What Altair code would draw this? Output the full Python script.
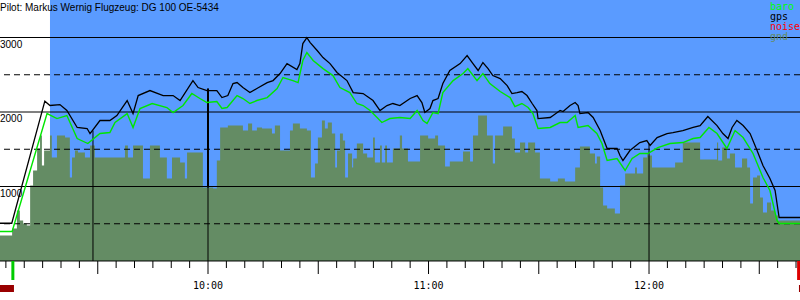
import altair as alt
import pandas as pd

# times are minutes after 09:00, altitudes in metres
gps_t = [3.4, 6.6, 15.6, 17.0, 19.7, 21.6, 24.4, 27.1, 27.9, 30.6,
         33.3, 35.2, 38.0, 39.6, 41.0, 44.2, 47.8, 50.5, 52.4, 55.9,
         57.3, 59.7, 62.4, 63.8, 65.4, 66.8, 67.9, 69.5, 71.4, 73.3,
         76.1, 77.7, 79.6, 81.5, 84.2, 85.0, 85.8, 86.9, 87.8, 89.7,
         91.3, 93.2, 95.1, 97.8, 99.5, 102.2, 104.9, 106.8, 108.7, 110.3,
         112.2, 115.0, 116.9, 118.2, 119.0, 120.4, 121.2, 122.6, 123.9, 125.8,
         128.6, 130.5, 132.1, 133.5, 134.8, 136.2, 137.5, 139.5, 141.4, 142.7,
         144.1, 145.4, 146.8, 148.2, 149.5, 149.8, 153.1, 153.9, 155.8, 156.6,
         158.5, 159.9, 160.7, 161.2, 163.4, 164.8, 166.7, 168.6, 171.3, 172.1,
         172.9, 174.8, 177.5, 179.4, 180.3, 182.2, 184.9, 186.5, 189.2, 192.0,
         193.9, 196.0, 198.5, 200.1, 201.5, 202.6, 203.9, 205.6, 207.5, 209.4,
         211.0, 212.9, 214.3, 215.4, 221.1]
gps_alt = [507, 507, 2145, 2087, 2100, 2020, 1792, 1778, 1711, 1886,
           1886, 1953, 2154, 1979, 2221, 2288, 2221, 2221, 2154, 2422,
           2328, 2288, 2288, 2194, 2221, 2382, 2395, 2328, 2261, 2315,
           2395, 2422, 2516, 2650, 2570, 2650, 2919, 2999, 2932, 2825,
           2731, 2650, 2530, 2422, 2261, 2248, 2154, 2020, 2087, 2114,
           2087, 2181, 2221, 2127, 1993, 2047, 2154, 2181, 2382, 2557,
           2650, 2758, 2650, 2557, 2664, 2583, 2489, 2449, 2355, 2248,
           2261, 2275, 2221, 2114, 2020, 1912, 1926, 1953, 2020, 2006,
           2087, 2127, 2087, 1979, 1993, 1926, 1751, 1510, 1510, 1416,
           1349, 1483, 1590, 1617, 1550, 1657, 1711, 1724, 1751, 1792,
           1818, 1939, 1818, 1711, 1644, 1792, 1886, 1818, 1711, 1483,
           1282, 1107, 946, 584, 584]

baro_t = [3.4, 6.7, 16.2, 18.9, 21.6, 24.4, 27.3, 30.6, 33.3, 34.7,
          38.0, 39.6, 41.5, 44.8, 48.8, 50.5, 53.2, 55.6, 57.8,
          59.7, 62.4, 63.8, 65.2, 67.9, 69.5, 71.4, 73.3, 76.1, 78.8,
          80.4, 83.1, 84.5, 85.8, 86.9, 88.6, 91.3, 94.0, 95.9, 98.6,
          100.5, 102.2, 104.1, 106.0, 107.3, 109.5, 112.2, 115.0, 116.9, 118.5,
          119.6, 121.2, 122.6, 123.9, 126.7, 129.4, 130.7, 133.2, 134.8, 136.7,
          139.5,
          142.2, 143.5, 145.4, 147.1, 148.4, 149.8, 153.1, 155.8, 157.7, 159.9,
          160.7, 163.4, 165.8, 167.2, 168.6, 171.3, 173.5, 175.4, 177.5, 179.7,
          182.4, 185.7, 189.2, 192.0, 193.9, 196.3, 198.5, 201.2, 203.4, 205.6,
          208.3, 211.0, 212.9, 214.8, 215.4, 221.1]
baro_alt = [396, 396, 1979, 1912, 1953, 1644, 1577, 1711, 1724, 1859,
            1979, 1792, 2047, 2114, 2060, 1993, 2087, 2248, 2181,
            2127, 2140, 2047, 2060, 2221, 2181, 2114, 2154, 2194, 2315,
            2463, 2422, 2395, 2691, 2798, 2691, 2583, 2489, 2328, 2261,
            2114, 2087, 2020, 1926, 1859, 1912, 1926, 1912, 2020, 1886,
            1845, 1993, 1979, 2261, 2422, 2516, 2583, 2422, 2516, 2382,
            2275,
            2194, 2073, 2114, 2060, 1979, 1778, 1792, 1859, 1859, 1953,
            1792, 1818, 1711, 1577, 1349, 1376, 1215, 1376, 1443, 1443,
            1523, 1577, 1590, 1644, 1657, 1792, 1711, 1510, 1751, 1657,
            1443, 1121, 946, 544, 503, 503]

gnd_t = [3.4, 6.7, 8.0, 8.8, 9.7, 10.7, 11.6, 12.4, 13.5, 14.3,
         14.8, 15.4, 17.0, 17.5, 18.9, 21.1, 22.4, 23.0, 23.8, 24.6,
         26.5, 27.9, 29.2, 37.4, 38.2, 39.6, 42.3, 44.2, 46.9, 48.8,
         50.2, 52.4, 53.7, 54.3, 58.6, 61.4, 62.4, 63.3, 65.4, 69.5,
         70.9, 72.0, 73.3, 74.7, 77.4, 78.2, 79.6, 82.3, 83.1, 85.0,
         86.9, 88.0, 89.1, 89.9, 91.0, 91.8, 92.6, 93.7, 94.6, 95.1,
         95.9, 96.7, 97.3, 98.1, 99.2, 99.5, 100.5, 102.2, 103.3, 104.9,
         105.4, 106.8, 107.3, 108.2, 108.7, 110.3, 112.2, 112.8, 114.4, 117.7,
         119.9, 121.8, 122.6, 124.5, 125.8, 129.4, 131.3, 132.1, 133.5, 135.9,
         137.5, 138.1, 140.3, 142.7, 143.5, 144.9, 146.3, 147.1, 149.0, 150.3,
         153.1, 155.2, 157.1, 159.9, 161.2, 163.9, 165.3, 165.8, 166.7, 167.5,
         168.6, 170.7, 172.1, 173.5, 176.2, 176.7, 178.4, 179.5, 179.7, 180.8,
         187.1, 189.2, 193.9, 198.5, 198.8, 199.9, 201.2, 202.0, 203.4, 205.3,
         206.7, 207.5, 208.3, 209.4, 210.2, 211.0, 212.1, 213.2, 214.3, 215.1,
         221.1]
gnd_alt = [342, 436, 678, 544, 503, 476, 1013, 1215, 1510, 1685,
           1282, 1483, 1685, 1389, 1685, 1657, 1121, 1389, 1483, 1456,
           1389, 1550, 1389, 1550, 1389, 1550, 1107, 1550, 1389, 1107,
           1389, 1322, 1107, 1456, 986, 973, 1349, 1792, 1818, 1751,
           1845, 1751, 1792, 1778, 1711, 1818, 1483, 1751, 1845, 1778,
           1751, 1121, 1309, 1657, 1886, 1778, 1859, 1711, 1255, 1483,
           1711, 1617, 1121, 1443, 1255, 1376, 1577, 1443, 1389, 1657,
           1322, 1550, 1322, 1550, 1322, 1510, 1685, 1510, 1335, 1685,
           1644, 1685, 1550, 1268, 1335, 1470, 1335, 1685, 1953, 1685,
           1309, 1685, 1805, 1644, 1456, 1590, 1456, 1590, 1456, 1107,
           1067, 1107, 1067, 1255, 1537, 1443, 1309, 1402, 986, 745,
           705, 638, 1013, 1174, 1255, 1174, 1389, 1443, 1416, 1255,
           1322, 1590, 1362, 1590, 1349, 1523, 1376, 1443, 1255, 1376,
           1255, 772, 1121, 1147, 852, 651, 785, 678, 611, 544,
           544]

grid_solid = [0, 1000, 2000, 3000]
grid_dashed = [500, 1500, 2500]
y_labels = [1000, 2000, 3000]
hour_t = [60, 120, 180]
hour_labels = ["10:00", "11:00", "12:00"]
major_ticks = [30, 60, 90, 120, 150, 180, 210]
minor_ticks = [m for m in range(5, 221, 5) if m not in major_ticks]
marker_t = [28.7, 180.0]
marker_top = [1751, 1577]
marker_thick_t = [60.0]
marker_thick_top = [2315]
marker_thick_bottom = [986]
sky_start = 17.0
takeoff_t = 6.9
end_t = 220.7
legend_names = ["baro", "gps", "noise", "gnd"]
legend_colors = ["#00FF00", "#000000", "#FF0000", "#648C64"]
title_text = "Pilot: Markus Wernig Flugzeug: DG 100 OE-5434"

BLUE = "#5A9BFF"
GND = "#648C64"
XS = alt.Scale(domain=[3.4, 221.08], nice=False, zero=False)
YS = alt.Scale(domain=[-523.5, 3503.4], nice=False, zero=False)


def X(f):
    return alt.X(f, type="quantitative", scale=XS, axis=None)


def Y(f):
    return alt.Y(f, type="quantitative", scale=YS, axis=None)


sky = alt.Chart(pd.DataFrame({"t": [sky_start], "a": [0]})).mark_rect(color=BLUE).encode(
    x=X("t"), x2=alt.value(800), y=Y("a"), y2=alt.value(0))

gnd = alt.Chart(pd.DataFrame({"t": gnd_t, "a": gnd_alt})).mark_area(
    interpolate="step-after", color=GND, opacity=1).encode(
    x=X("t"), y=Y("a"), y2=alt.datum(0))

solid = alt.Chart(pd.DataFrame({"a": grid_solid})).mark_rule(color="black", strokeWidth=1).encode(y=Y("a"))
dashed = alt.Chart(pd.DataFrame({"a": grid_dashed})).mark_rule(
    color="black", strokeWidth=1, strokeDash=[6, 4]).encode(y=Y("a"))

markers = alt.Chart(pd.DataFrame({"t": marker_t + marker_thick_t, "a": marker_top + marker_thick_top})).mark_rule(
    color="black", strokeWidth=1).encode(x=X("t"), y=Y("a"), y2=alt.datum(0))
thick = alt.Chart(pd.DataFrame({"t": marker_thick_t, "a": marker_thick_top, "b": marker_thick_bottom})).mark_rule(
    color="black", strokeWidth=2).encode(x=X("t"), y=Y("a"), y2="b:Q")

baro = alt.Chart(pd.DataFrame({"t": baro_t, "a": baro_alt})).mark_line(
    color="#00E600", strokeWidth=1.4).encode(x=X("t"), y=Y("a"))
gps = alt.Chart(pd.DataFrame({"t": gps_t, "a": gps_alt})).mark_line(
    color="black", strokeWidth=1.3).encode(x=X("t"), y=Y("a"))

minor = alt.Chart(pd.DataFrame({"t": minor_ticks})).mark_rule(color="black", strokeWidth=1).encode(
    x=X("t"), y=alt.value(261), y2=alt.value(268))
major = alt.Chart(pd.DataFrame({"t": major_ticks})).mark_rule(color="black", strokeWidth=1).encode(
    x=X("t"), y=alt.value(261), y2=alt.value(274))

hours = alt.Chart(pd.DataFrame({"t": hour_t, "l": hour_labels})).mark_text(
    font="DejaVu Sans Mono", fontSize=10, align="center", baseline="middle", color="black").encode(
    x=X("t"), y=alt.value(286), text="l:N")

ylab = alt.Chart(pd.DataFrame({"a": y_labels})).mark_text(
    font="Liberation Sans", fontSize=10, align="left", baseline="alphabetic", dy=10, color="black").encode(
    x=alt.value(0), y=Y("a"), text="a:Q")

start_bar = alt.Chart(pd.DataFrame({"t": [takeoff_t]})).mark_rule(color="#00CC00", strokeWidth=3).encode(
    x=X("t"), y=alt.value(261), y2=alt.value(280))
end_bar = alt.Chart(pd.DataFrame({"t": [end_t]})).mark_rule(color="#DD0000", strokeWidth=3).encode(
    x=X("t"), y=alt.value(261), y2=alt.value(280))
strip = alt.Chart(pd.DataFrame({"t": [3.4], "t2": [7.2]})).mark_rect(color="#990000").encode(
    x=X("t"), x2="t2:Q", y=alt.value(285), y2=alt.value(292))
strip_end = alt.Chart(pd.DataFrame({"t": [220.8], "t2": [221.08]})).mark_rect(color="#990000").encode(
    x=X("t"), x2="t2:Q", y=alt.value(285), y2=alt.value(292))

title = alt.Chart(pd.DataFrame({"l": [title_text]})).mark_text(
    font="Liberation Sans", fontSize=10, align="left", baseline="alphabetic", color="black").encode(
    x=alt.value(0), y=alt.value(10.5), text="l:N")

legend_layers = []
for i, (n, c) in enumerate(zip(legend_names, legend_colors)):
    legend_layers.append(
        alt.Chart(pd.DataFrame({"l": [n]})).mark_text(
            font="DejaVu Sans Mono", fontSize=10, align="left", baseline="alphabetic", color=c).encode(
            x=alt.value(770), y=alt.value(10 + 10 * i), text="l:N"))

chart = alt.layer(
    sky, gnd, solid, dashed, markers, thick, baro, gps, minor, major, hours, ylab,
    start_bar, end_bar, strip, strip_end, title, *legend_layers
).properties(width=800, height=300, padding=0, autosize="none", background="white").configure_view(stroke=None)

chart.save("out.html", embed_options={"renderer": "svg", "actions": False})
